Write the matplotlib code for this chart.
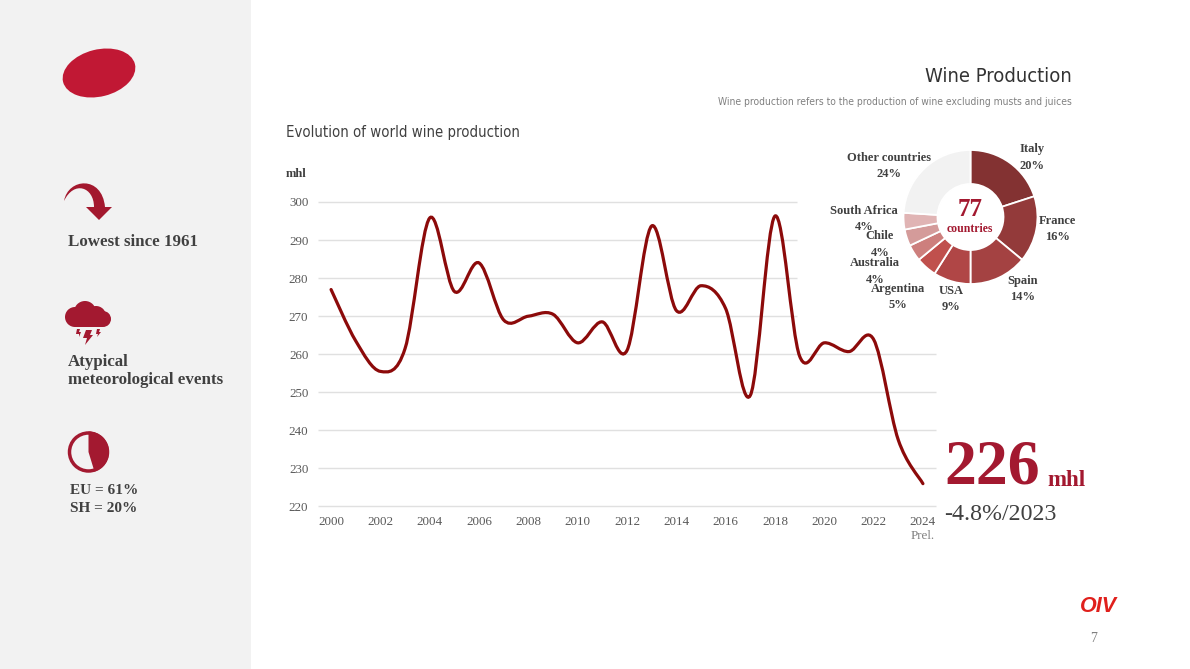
import matplotlib
matplotlib.use("Agg")
import matplotlib.pyplot as plt
from matplotlib.patches import Circle, Ellipse, Polygon, Rectangle, Wedge, PathPatch
from matplotlib.path import Path

SERIF = "Liberation Serif"
NARROW = "DejaVu Sans"

years = [2000, 2001, 2002, 2003, 2004, 2005, 2006, 2007, 2008, 2009, 2010, 2011,
         2012, 2013, 2014, 2015, 2016, 2017, 2018, 2019, 2020, 2021, 2022, 2023, 2024]
production = [277, 263.5, 255.5, 261.5, 295.8, 276.5, 284, 269, 270, 270.5, 263, 268.5,
              261, 293.7, 271.5, 278, 272, 249.2, 296.3, 259.5, 263, 260.7, 263.9, 237.5, 226]
y_ticks = [220, 230, 240, 250, 260, 270, 280, 290, 300]
x_ticks = [2000, 2002, 2004, 2006, 2008, 2010, 2012, 2014, 2016, 2018, 2020, 2022, 2024]

countries = ["Italy", "France", "Spain", "USA", "Argentina", "Australia", "Chile", "South Africa", "Other countries"]
shares = [20, 16, 14, 9, 5, 4, 4, 4, 24]
share_colors = ["#833232", "#933a3a", "#a44242", "#b04646", "#c0504d", "#cd7f7d", "#d49b9a", "#e0b4b4", "#f2f2f2"]
# où va chaque étiquette du donut (pixels)
label_pos = [(1032, 157.5), (1057, 229), (1023, 289), (951, 299), (898, 297), (875, 271.5), (880, 244.5), (864, 219), (889, 166)]

DARK = "#404040"
RED = "#a31930"
LINE = "#8c0a0a"


def smooth_path(xs, ys):
    # courbe lissée type tableur qui passe par chaque point
    verts = [(xs[0], ys[0])]
    codes = [Path.MOVETO]
    for i in range(len(xs) - 1):
        x0, y0 = (xs[i - 1], ys[i - 1]) if i > 0 else (xs[i], ys[i])
        x3, y3 = (xs[i + 2], ys[i + 2]) if i + 2 < len(xs) else (xs[i + 1], ys[i + 1])
        verts.append((xs[i] + (xs[i + 1] - x0) / 6, ys[i] + (ys[i + 1] - y0) / 6))
        verts.append((xs[i + 1] - (x3 - xs[i]) / 6, ys[i + 1] - (y3 - ys[i]) / 6))
        verts.append((xs[i + 1], ys[i + 1]))
        codes += [Path.CURVE4, Path.CURVE4, Path.CURVE4]
    return Path(verts, codes)


W, H = 1190, 669
fig = plt.figure(figsize=(W / 100, H / 100), dpi=100, facecolor="white")

# calque en pixels pour le panneau et les textes
bg = fig.add_axes([0, 0, 1, 1], zorder=0)
bg.set_xlim(0, W)
bg.set_ylim(H, 0)
bg.axis("off")
bg.add_patch(Rectangle((0, 0), 251, H, color="#f2f2f2", lw=0))
bg.add_patch(Ellipse((99, 73), 74, 47, angle=-14, color="#c11834", lw=0))

# flèche
arrow = Path([(64, 201), (68, 178), (102, 175), (105, 207), (112, 207), (99, 220), (86, 207), (94, 207), (94, 187), (74, 180), (64, 201)],
             [Path.MOVETO, Path.CURVE4, Path.CURVE4, Path.CURVE4, Path.LINETO, Path.LINETO, Path.LINETO, Path.LINETO, Path.CURVE4, Path.CURVE4, Path.CURVE4])
bg.add_patch(PathPatch(arrow, color="#a3182e", lw=0))

# nuage
for cx, cy, r in [(75, 317, 10), (85, 312, 11), (96, 316, 10), (103, 319, 8)]:
    bg.add_patch(Circle((cx, cy), r, color=RED, lw=0))
bg.add_patch(Rectangle((75, 317), 28, 10, color=RED, lw=0))
bg.add_patch(Polygon([(86, 330), (92, 330), (90, 335), (93, 335), (85, 345), (87, 338), (83, 338)], color=RED, lw=0))
bg.add_patch(Polygon([(77, 329), (80, 329), (79, 332), (81, 332), (79, 337), (79, 334), (76, 334)], color=RED, lw=0))
bg.add_patch(Polygon([(97, 329), (100, 329), (99, 332), (101, 332), (97, 337), (98, 334), (96, 334)], color=RED, lw=0))

# petit camembert
bg.add_patch(Wedge((88.5, 452), 20.5, -90, 73, color=RED, lw=0))
bg.add_patch(Circle((88.5, 452), 19, fill=False, ec=RED, lw=2.5))

side = dict(family=SERIF, weight="bold", fontsize=12.2, color=DARK, va="center")
bg.text(68, 242, "Lowest since 1961", **side)
bg.text(68, 362, "Atypical", **side)
bg.text(68, 380, "meteorological events", **side)
bg.text(70, 490, "EU = 61%", family=SERIF, weight="bold", fontsize=11, color=DARK, va="center")
bg.text(70, 508, "SH = 20%", family=SERIF, weight="bold", fontsize=11, color=DARK, va="center")

bg.text(1072, 76, "Wine Production", family=NARROW, stretch="condensed", fontsize=14.5, color="#333333", ha="right", va="center")
bg.text(1072, 102, "Wine production refers to the production of wine excluding musts and juices",
        family=NARROW, stretch="condensed", fontsize=7.4, color="#808080", ha="right", va="center")
bg.text(286, 132, "Evolution of world wine production", family=NARROW, stretch="condensed", fontsize=10.7, color="#404040", va="center")
bg.text(286, 174, "mhl", family=SERIF, weight="bold", fontsize=9, color=DARK, va="center")

bg.text(944, 468, "226", family=SERIF, weight="bold", fontsize=46, color=RED, va="center")
bg.text(1047, 481, "mhl", family=SERIF, weight="bold", fontsize=16.5, color=RED, va="center")
bg.text(944, 514, "-4.8%/2023", family=SERIF, fontsize=17.2, color=DARK, va="center")
bg.text(1099, 607, "OIV", family="Liberation Sans", weight="bold", style="italic", fontsize=15.5, color="#e0201c", ha="center", va="center")
bg.text(1094, 639, "7", family=SERIF, fontsize=10, color="#808080", ha="center", va="center")

# courbe principale
ax = fig.add_axes([318 / W, 1 - 506.5 / H, 618 / W, 304.5 / H], zorder=1)
ax.patch.set_alpha(0)
ax.set_xlim(1999.47, 2024.53)
ax.set_ylim(220, 300)
short_end = 1999.47 + (797 - 318) / 618 * (2024.53 - 1999.47)
for tick in y_ticks:
    # le donut coupe les lignes du haut
    ax.hlines(tick, 1999.47, short_end if tick >= 270 else 2024.53, color="#e0e0e0", lw=1, zorder=1, clip_on=False)
ax.add_patch(PathPatch(smooth_path(years, production), fill=False, ec=LINE, lw=2.3, capstyle="round", zorder=3))
ax.set_yticks(y_ticks)
ax.set_xticks(x_ticks)
ax.tick_params(length=0, labelsize=9.4, labelcolor="#595959", pad=7)
for lab in ax.get_xticklabels() + ax.get_yticklabels():
    lab.set_family(SERIF)
for s in ax.spines.values():
    s.set_visible(False)
bg.text(923, 536, "Prel.", family=SERIF, fontsize=9.4, color="#7f7f7f", ha="center", va="center")

# donut
pie_ax = fig.add_axes([(970.5 - 70) / W, 1 - (217 + 70) / H, 140 / W, 140 / H], zorder=3)
pie_ax.pie(shares, colors=share_colors, startangle=90, counterclock=False, radius=67 / 70,
           wedgeprops=dict(width=34 / 70, edgecolor="white", linewidth=1.3))
pie_ax.set_xlim(-1, 1)
pie_ax.set_ylim(-1, 1)

top = fig.add_axes([0, 0, 1, 1], zorder=4)
top.set_xlim(0, W)
top.set_ylim(H, 0)
top.axis("off")
label = dict(family=SERIF, weight="bold", fontsize=9, color=DARK, ha="center", va="center", linespacing=1.45)
for name, share, (lx, ly) in zip(countries, shares, label_pos):
    top.text(lx, ly, f"{name}\n{share}%", **label)
top.text(970, 209, "77", family=SERIF, weight="bold", fontsize=18, color=RED, ha="center", va="center")
top.text(970, 229, "countries", family=SERIF, weight="bold", fontsize=8.5, color=RED, ha="center", va="center")

fig.savefig("out.png", dpi=100)
